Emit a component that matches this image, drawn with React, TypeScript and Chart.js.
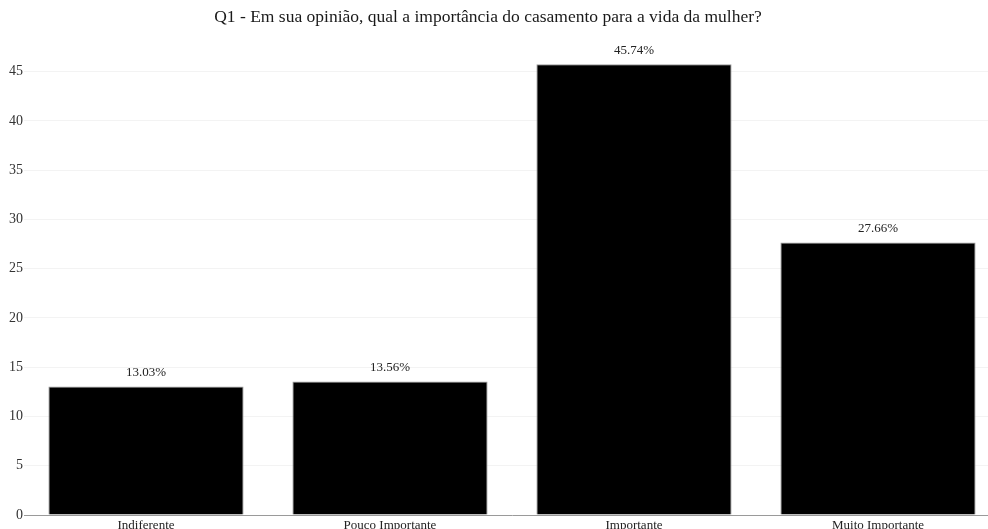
import { useEffect, useRef } from "react";
import { Chart, registerables } from "chart.js";

Chart.register(...registerables);

const categories = ["Indiferente", "Pouco Importante", "Importante", "Muito Importante"];
const percentages = [13.03, 13.56, 45.74, 27.66];
const yTicks = [0, 5, 10, 15, 20, 25, 30, 35, 40, 45];
const titleText = "Q1 - Em sua opinião, qual a importância do casamento para a vida da mulher?";

const SERIF = '"Liberation Serif", "Times New Roman", serif';

// Centered title drawn straight onto the canvas
const titlePlugin = {
  id: "serifTitle",
  afterDraw(chart: any) {
    const { ctx } = chart;
    ctx.save();
    ctx.font = `17.5px ${SERIF}`;
    ctx.fillStyle = "#1a1a1a";
    ctx.textAlign = "center";
    ctx.textBaseline = "alphabetic";
    ctx.fillText(titleText, 488, 22);
    ctx.restore();
  },
};

// Percentage label above each bar
const valueLabels = {
  id: "valueLabels",
  afterDatasetsDraw(chart: any) {
    const { ctx } = chart;
    const meta = chart.getDatasetMeta(0);
    ctx.save();
    ctx.font = `13px ${SERIF}`;
    ctx.fillStyle = "#222";
    ctx.textAlign = "center";
    ctx.textBaseline = "middle";
    meta.data.forEach((bar: any, i: number) => {
      ctx.fillText(percentages[i].toFixed(2) + "%", bar.x, bar.y - 14);
    });
    ctx.restore();
  },
};

export default function App() {
  const canvasRef = useRef<HTMLCanvasElement | null>(null);

  useEffect(() => {
    document.body.style.margin = "0";
    document.body.style.background = "#fff";
    const canvas = canvasRef.current;
    if (!canvas) return;
    const chart = new Chart(canvas, {
      type: "bar",
      data: {
        labels: categories,
        datasets: [
          {
            data: percentages,
            backgroundColor: "#000000",
            borderColor: "#9a9a9a",
            borderWidth: 1,
            barPercentage: 0.8,
            categoryPercentage: 1,
          },
        ],
      },
      options: {
        responsive: false,
        animation: false,
        devicePixelRatio: 1,
        layout: { padding: { top: 42, left: 0, right: 0, bottom: 0 } },
        plugins: {
          legend: { display: false },
          title: { display: false },
          tooltip: { enabled: false },
        },
        scales: {
          x: {
            grid: { display: false, drawTicks: false },
            border: { display: true, color: "#9a9a9a", width: 1 },
            ticks: {
              autoSkip: false,
              maxRotation: 0,
              color: "#222",
              padding: 3,
              font: { family: SERIF, size: 13 },
            },
            afterFit(scale: any) {
              scale.height = 30;
            },
          },
          y: {
            min: 0,
            max: 48,
            grid: { color: "#f3f3f3", drawTicks: false },
            border: { display: false },
            ticks: {
              color: "#333",
              padding: 1,
              font: { family: SERIF, size: 14 },
            },
            afterBuildTicks(scale: any) {
              scale.ticks = yTicks.map((v) => ({ value: v }));
            },
            afterFit(scale: any) {
              scale.width = 24;
            },
          },
        },
      },
      plugins: [titlePlugin, valueLabels],
    });
    return () => chart.destroy();
  }, []);

  return (
    <div style={{ position: "relative", width: 988, height: 529, overflow: "hidden", background: "#fff" }}>
      <canvas ref={canvasRef} width={1000} height={545} style={{ display: "block" }} />
    </div>
  );
}
